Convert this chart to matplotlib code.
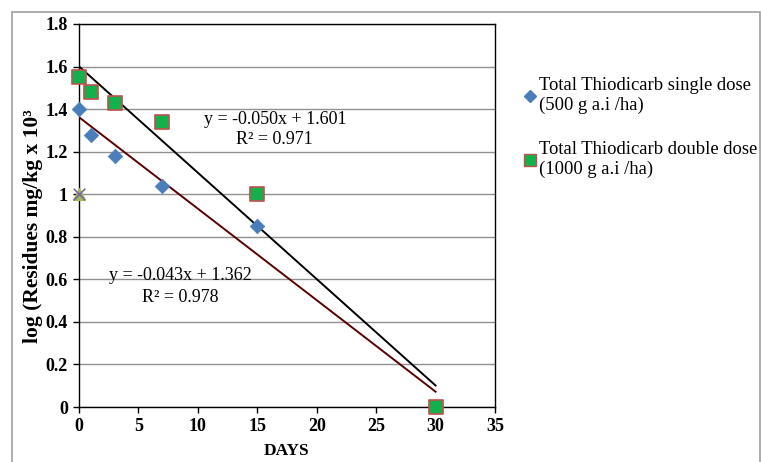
import matplotlib
matplotlib.use("Agg")
import matplotlib.pyplot as plt
from matplotlib.lines import Line2D
from matplotlib.patches import Rectangle
import numpy as np

plt.rcParams['font.family'] = ['Liberation Serif', 'DejaVu Serif']

days = [0, 1, 3, 7, 15, 30]
single = [1.40, 1.28, 1.18, 1.04, 0.85, 0.0]
double = [1.55, 1.48, 1.43, 1.34, 1.00, 0.0]
extra_x = [0]
extra_y = [1.0]
fit_double = (-0.050, 1.601)
fit_single = (-0.043, 1.362)
eq_double = ["y = -0.050x + 1.601", "R² = 0.971"]
eq_single = ["y = -0.043x + 1.362", "R² = 0.978"]
labels = ["Total Thiodicarb single dose\n(500 g a.i /ha)",
          "Total Thiodicarb double dose\n(1000 g a.i /ha)"]

fig = plt.figure(figsize=(7.61, 4.62), dpi=100)
fig.patches.append(Rectangle((12/761, -0.1), (760-12)/761, 1 + 0.1 - 12/462,
                             transform=fig.transFigure, fill=False,
                             edgecolor='#a0a0a0', linewidth=1.2))
ax = fig.add_axes([79/761, 1-407/462, (495-79)/761, (407-24)/462])

ax.set_xlim(0, 35)
ax.set_ylim(0, 1.8)
ax.set_xticks(np.arange(0, 36, 5))
ax.set_yticks(np.arange(0, 1.81, 0.2))
ax.set_yticklabels(['0', '0.2', '0.4', '0.6', '0.8', '1', '1.2', '1.4', '1.6', '1.8'])
ax.yaxis.grid(True, color='#909090', linewidth=1.0)
ax.set_axisbelow(True)
for s in ax.spines.values():
    s.set_color('black')
    s.set_linewidth(1.0)
ax.tick_params(axis='both', direction='out', length=4, width=1, labelsize=13)
ax.tick_params(axis='x', pad=4)
ax.tick_params(axis='y', pad=4)
for lbl in ax.get_xticklabels() + ax.get_yticklabels():
    lbl.set_fontweight('bold')

xs = np.array([0, 30])
ax.plot(xs, fit_double[0]*xs + fit_double[1], color='black', linewidth=1.4, zorder=3)
ax.plot(xs, fit_single[0]*xs + fit_single[1], color='#5a0000', linewidth=1.4, zorder=3)

ax.scatter(days, single, marker='D', s=55, color='#4a7ebb', edgecolors='#4a7ebb',
           linewidths=0.5, zorder=4, clip_on=False)
ax.scatter(days, double, marker='s', s=110, color='#14b04c', edgecolors='#c0504d',
           linewidths=1.2, zorder=5, clip_on=False)
ax.scatter(extra_x, extra_y, marker='^', s=70, color='#9bbb59', zorder=5, clip_on=False)
ax.scatter(extra_x, extra_y, marker='x', s=70, color='#8064a2', linewidths=1.2, zorder=6, clip_on=False)

def figtext(px, py, s, **kw):
    fig.text(px/761, 1-py/462, s, **kw)

figtext(275, 119, eq_double[0], fontsize=13, ha='center', va='center')
figtext(274, 139, eq_double[1], fontsize=13, ha='center', va='center')
figtext(180, 276, eq_single[0], fontsize=13, ha='center', va='center')
figtext(180, 298, eq_single[1], fontsize=13, ha='center', va='center')

ax.set_xlabel("DAYS", fontsize=12.5, fontweight='bold')
ax.xaxis.set_label_coords(0.5, -0.095)
ax.set_ylabel("log (Residues mg/kg x 10³", fontsize=15.5, fontweight='bold')
ax.yaxis.set_label_coords(-0.087, 0.4726)

handles = [Line2D([], [], marker='D', color='#4a7ebb', linestyle='none', markersize=6),
           Line2D([], [], marker='s', color='#14b04c', markeredgecolor='#c0504d',
                  linestyle='none', markersize=8)]
fig.legend(handles, labels, loc='upper left', bbox_to_anchor=(517/761, 1-70/462),
           frameon=False, fontsize=13.4, handlelength=0.6, handletextpad=0.2,
           labelspacing=1.45, borderaxespad=0)

fig.savefig("out.png", dpi=100)
